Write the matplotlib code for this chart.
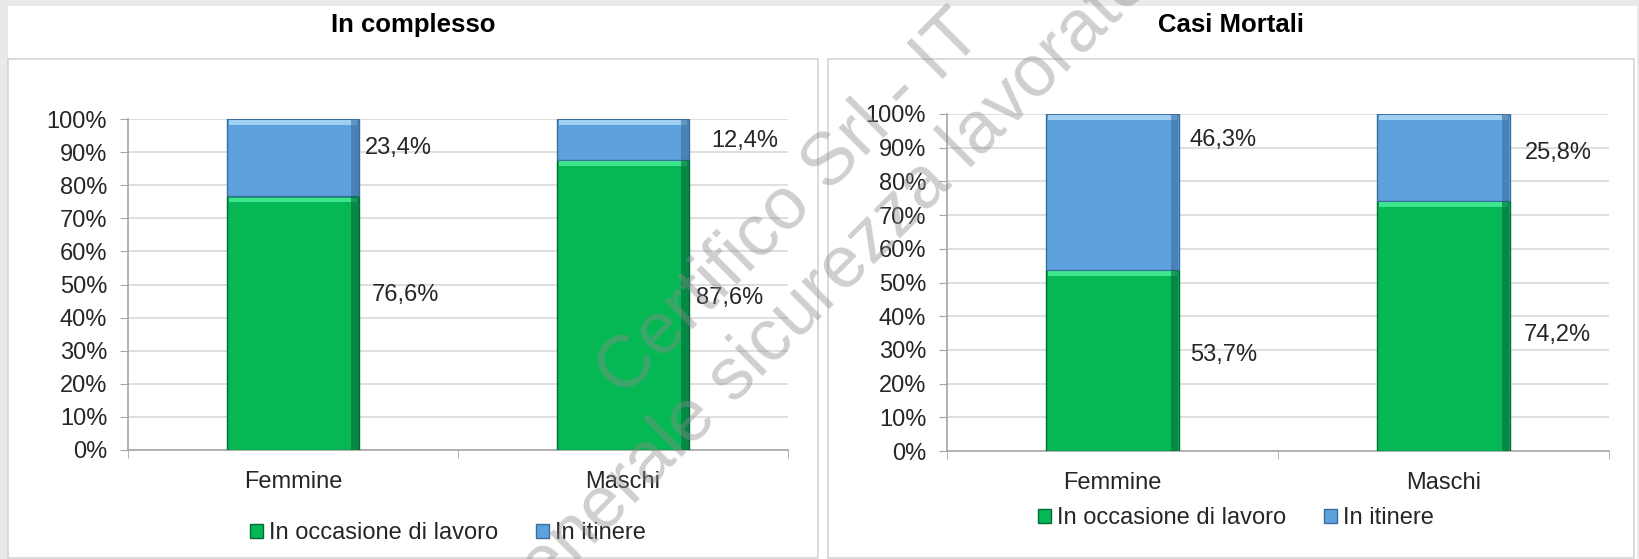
import matplotlib as mpl
from matplotlib import pyplot as plt
from matplotlib.patches import Rectangle
import numpy as np

mpl.use('Agg')
plt.rcParams['font.family'] = ['Liberation Sans', 'DejaVu Sans']

categories = ['Femmine', 'Maschi']
series_names = ['In occasione di lavoro', 'In itinere']

# percentuali per pannello
complesso_lavoro = [76.6, 87.6]
complesso_itinere = [23.4, 12.4]
mortali_lavoro = [53.7, 74.2]
mortali_itinere = [46.3, 25.8]

titles = ['In complesso', 'Casi Mortali']

# posizione verticale delle etichette (in % dell'asse) come nel grafico Excel
lab_y_complesso = [[46.8, 45.9], [91.2, 93.4]]
lab_y_mortali = [[28.5, 34.4], [92.3, 88.4]]
# distanza dal bordo destro della barra, in pixel
lab_dx = [[[13, 7], [6, 22]], [[11, 14], [11, 15]]]

green, green_lt, green_dk = '#06B853', '#3DE58C', '#03693A'
blue, blue_lt, blue_dk = '#5EA2DD', '#9FD0F4', '#3B6E9E'
txt = '#262626'
W, H = 1640, 559

fig = plt.figure(figsize=(W/100, H/100), dpi=100, facecolor='#E9E9E9')
fig.patches.append(Rectangle((8/W, 0), (1637-8)/W, (H-6)/H, transform=fig.transFigure,
                             facecolor='white', edgecolor='none', zorder=-2))
# riquadri dei due grafici
for x0, x1 in [(8, 818), (828, 1634)]:
    fig.patches.append(Rectangle((x0/W, 1/H), (x1-x0)/W, (H-59-1)/H, transform=fig.transFigure,
                                 facecolor='white', edgecolor='#D4D4D4', lw=1.2, zorder=-1))

axes_pos = [[128/W, (H-450)/H, 660/W, 331/H],
            [947/W, (H-451)/H, 662/W, 337/H]]
title_x = [413/W, 1231/W]
legend_pos = [(448/W, 1-533/H), (1236/W, 1-518/H)]

data = [(complesso_lavoro, complesso_itinere, lab_y_complesso),
        (mortali_lavoro, mortali_itinere, lab_y_mortali)]

x = np.arange(len(categories))
bw = 0.40

def bevel_bar(ax, xs, heights, bottoms, base, lt, dk, label):
    bars = ax.bar(xs, heights, bw, bottom=bottoms, color=base, edgecolor=dk,
                  linewidth=1.0, label=label, zorder=3)
    tops = np.array(bottoms) + np.array(heights)
    ax.bar(xs, 1.4, bw*0.97, bottom=tops-1.8, color=lt, linewidth=0, zorder=4)
    ax.bar(xs + bw/2 - 0.012, heights, 0.022, bottom=bottoms, color=dk, alpha=0.6,
           linewidth=0, zorder=4)
    return bars

for i, (lav, itin, lab_y) in enumerate(data):
    ax = fig.add_axes(axes_pos[i], zorder=2)
    ax.patch.set_alpha(0)
    b1 = bevel_bar(ax, x, lav, [0, 0], green, green_lt, green_dk, series_names[0])
    b2 = bevel_bar(ax, x, itin, lav, blue, blue_lt, blue_dk, series_names[1])

    for j in range(len(categories)):
        for k, val in enumerate([lav[j], itin[j]]):
            ax.annotate(f'{val:.1f}%'.replace('.', ','), (x[j] + bw/2, lab_y[k][j]),
                        xytext=(lab_dx[i][k][j] * 0.72, 0), textcoords='offset points',
                        ha='left', va='center', fontsize=17, color=txt)

    ax.set_xlim(-0.5, 1.5)
    ax.set_ylim(0, 100)
    ax.set_yticks(np.arange(0, 101, 10))
    ax.yaxis.set_major_formatter(mpl.ticker.FuncFormatter(lambda v, p: f'{v:.0f}%'))
    ax.set_xticks(x)
    ax.set_xticklabels(categories)
    ax.set_xticks([-0.5, 0.5, 1.5], minor=True)
    ax.tick_params(axis='x', which='major', length=0, pad=15, labelsize=17, labelcolor=txt)
    ax.tick_params(axis='x', which='minor', length=6, color='#A6A6A6', direction='out')
    ax.tick_params(axis='y', length=6, color='#A6A6A6', pad=9, labelsize=17, labelcolor=txt)
    ax.grid(axis='y', color='#D9D9D9', linewidth=1.2, zorder=0)
    ax.set_axisbelow(True)
    for s in ['top', 'right']:
        ax.spines[s].set_visible(False)
    for s in ['left', 'bottom']:
        ax.spines[s].set_color('#A6A6A6')
        ax.spines[s].set_linewidth(1.2)

    fig.text(title_x[i], 1-25/H, titles[i], ha='center', va='center',
             fontsize=18.5, fontweight='bold', color='black')
    fig.legend([b1, b2], series_names, loc='center', bbox_to_anchor=legend_pos[i],
               ncol=2, frameon=False, fontsize=17, handlelength=0.55, handleheight=0.55,
               handletextpad=0.25, columnspacing=1.6, labelcolor=txt)

# filigrana
fig.text(790/W, 1-204/H, 'Certifico Srl - IT', rotation=45, ha='center', va='center',
         rotation_mode='anchor', fontsize=53, color='#8C8C8C', alpha=0.42, zorder=10)
fig.text(836/W, 1-276/H, 'generale sicurezza lavoratori', rotation=45, ha='center',
         va='center', rotation_mode='anchor', fontsize=53, color='#8C8C8C', alpha=0.42, zorder=10)

plt.savefig('out.png', dpi=100, facecolor=fig.get_facecolor())
